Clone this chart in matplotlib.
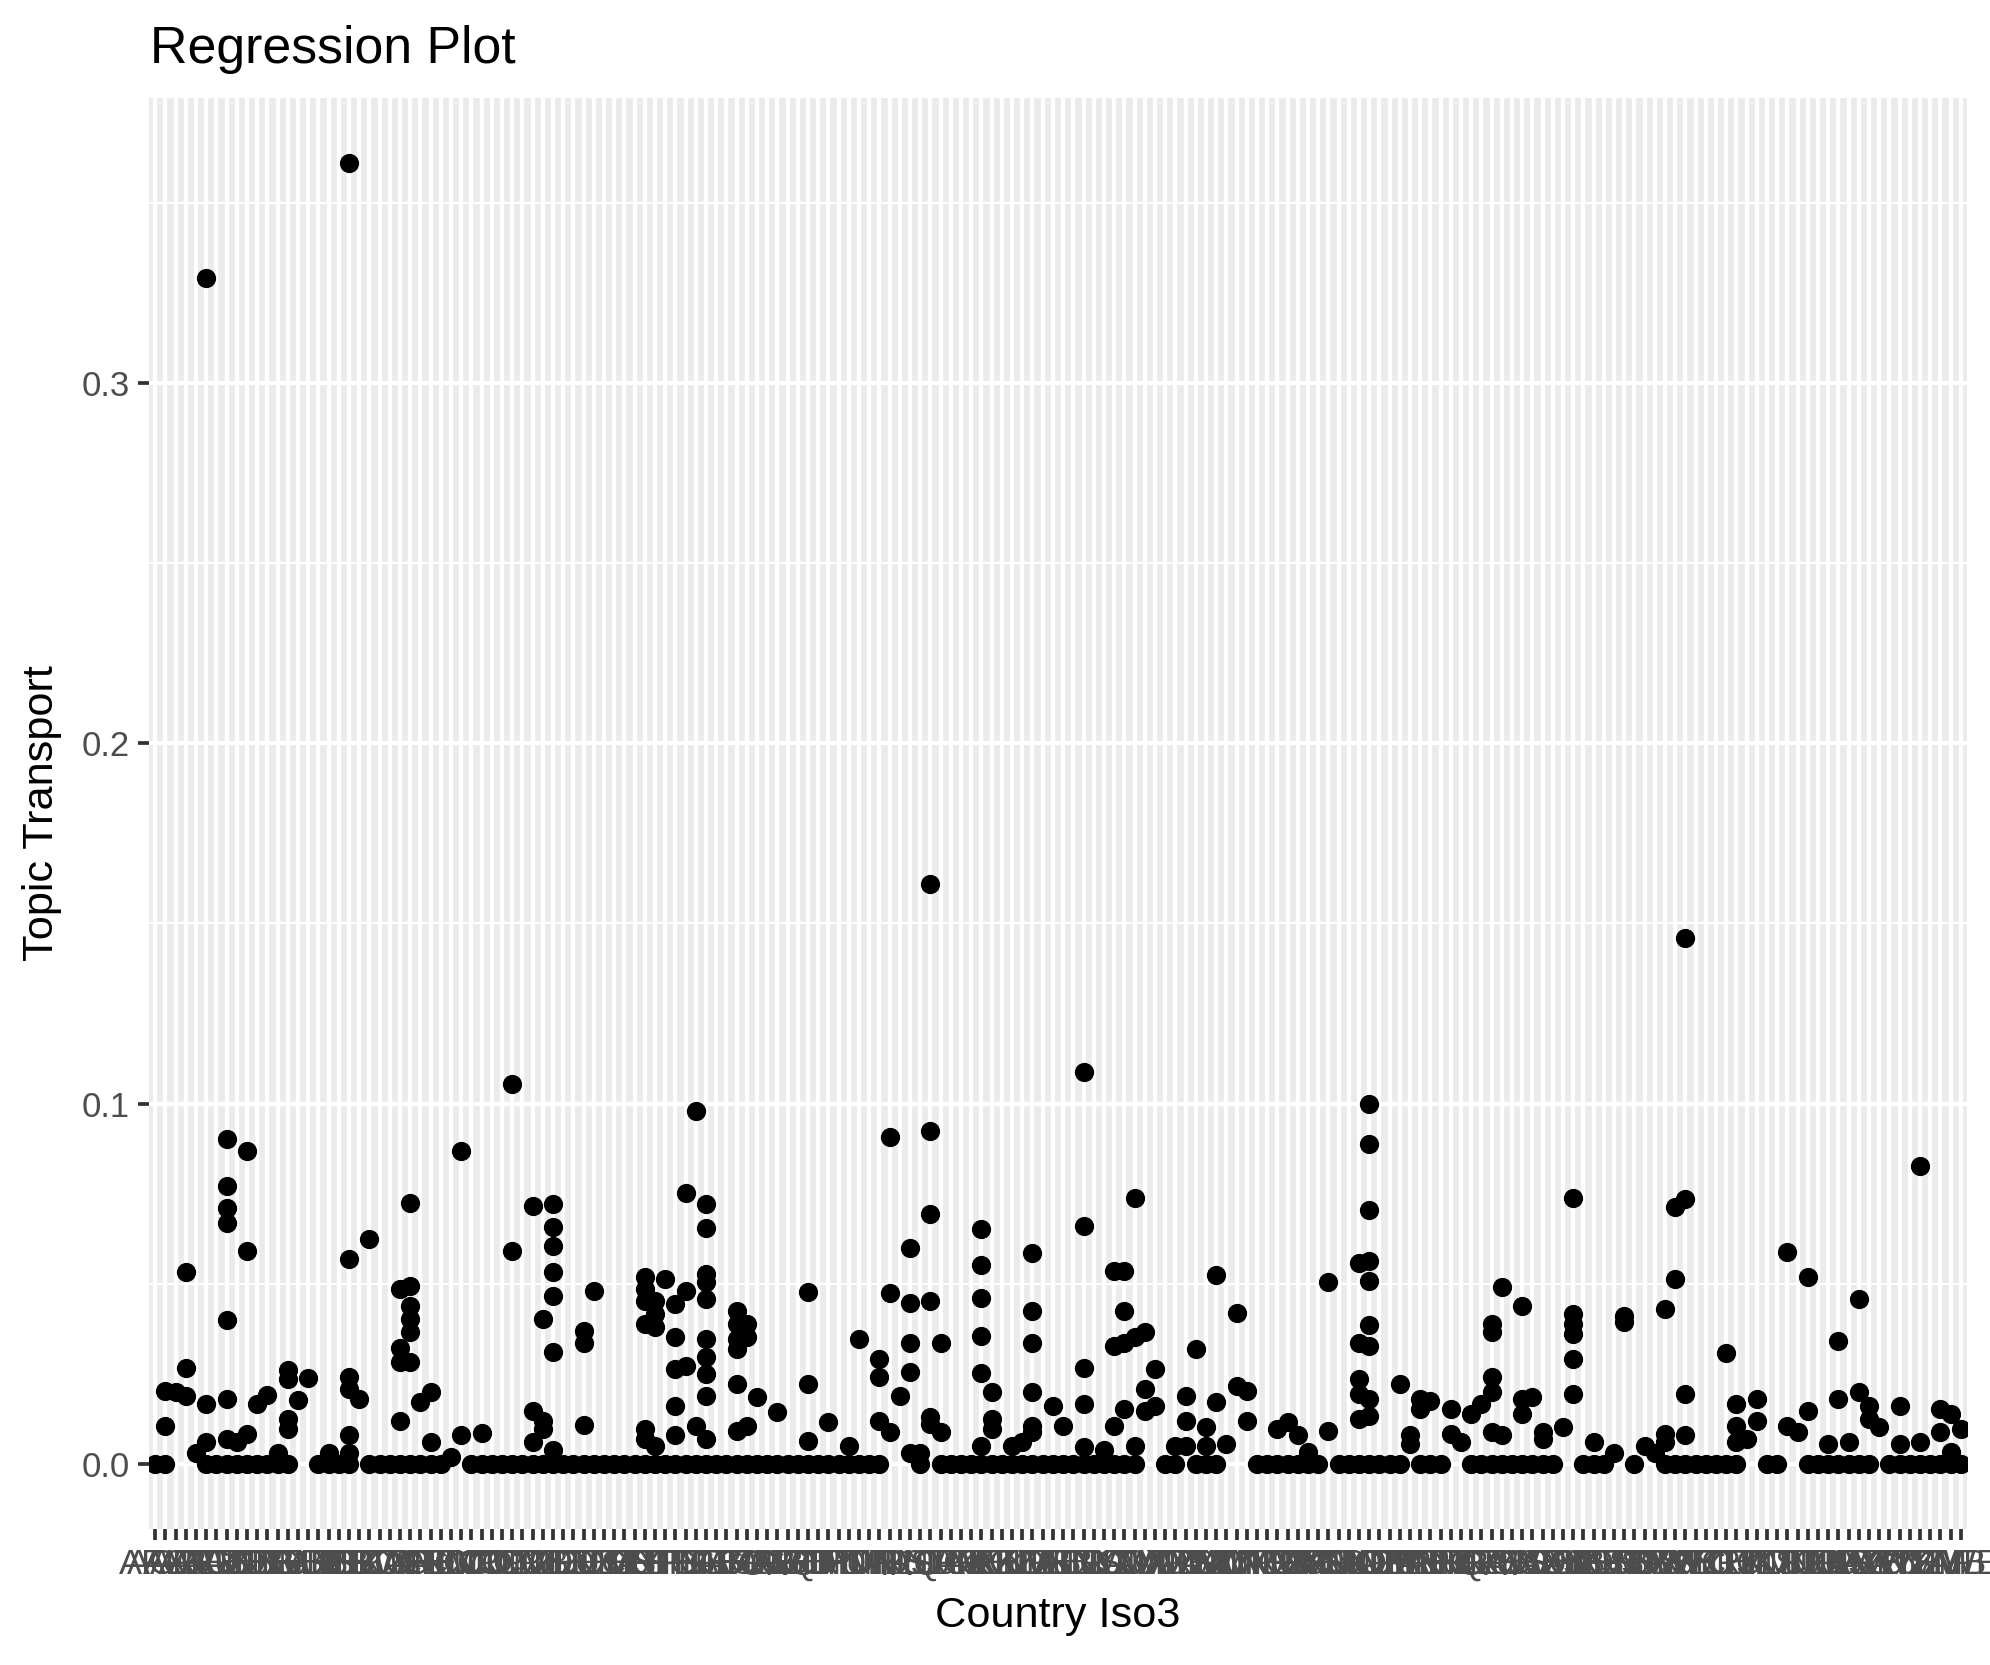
import numpy as np
import matplotlib
matplotlib.use("Agg")
import matplotlib.pyplot as plt

plt.rcParams['font.family'] = ['Liberation Sans', 'DejaVu Sans']

# Country codes on the x axis (alphabetical, as in the source figure)
iso3 = [
    "AFG", "AGO", "ALB", "ARE", "ARG", "ARM", "AUS", "AUT", "AZE", "BDI",
    "BEL", "BEN", "BFA", "BGD", "BGR", "BHR", "BHS", "BIH", "BLR", "BLZ",
    "BOL", "BRA", "BTN", "BWA", "CAF", "CAN", "CHE", "CHL", "CHN", "CIV",
    "CMR", "COD", "COG", "COL", "COM", "CPV", "CRI", "CUB", "CYP", "CZE",
    "DEU", "DJI", "DNK", "DOM", "DZA", "ECU", "EGY", "ERI", "ESP", "EST",
    "ETH", "FIN", "FJI", "FRA", "GAB", "GBR", "GEO", "GHA", "GIN", "GMB",
    "GNB", "GNQ", "GRC", "GRD", "GTM", "GUY", "HND", "HRV", "HTI", "HUN",
    "IDN", "IND", "IRL", "IRN", "IRQ", "ISL", "ISR", "ITA", "JAM", "JOR",
    "JPN", "KAZ", "KEN", "KGZ", "KHM", "KIR", "KOR", "KWT", "LAO", "LBN",
    "LBR", "LBY", "LCA", "LKA", "LSO", "LTU", "LUX", "LVA", "MAR", "MDA",
    "MDG", "MDV", "MEX", "MKD", "MLI", "MLT", "MMR", "MNE", "MNG", "MOZ",
    "MRT", "MUS", "MWI", "MYS", "NAM", "NER", "NGA", "NIC", "NLD", "NOR",
    "NPL", "NZL", "OMN", "PAK", "PAN", "PER", "PHL", "PNG", "POL", "PRT",
    "PRY", "QAT", "ROU", "RUS", "RWA", "SAU", "SDN", "SEN", "SGP", "SLB",
    "SLE", "SLV", "SOM", "SRB", "SSD", "STP", "SUR", "SVK", "SVN", "SWE",
    "SWZ", "SYC", "SYR", "TCD", "TGO", "THA", "TJK", "TKM", "TLS", "TON",
    "TTO", "TUN", "TUR", "TZA", "UGA", "UKR", "URY", "USA", "UZB", "VCT",
    "VEN", "VNM", "VUT", "WSM", "YEM", "ZAF", "ZMB", "ZWE",
]

# Topic Transport observations per country (same order as iso3)
transport = [
    [0.0], [0.0, 0.0106, 0.0203], [0.0199], [0.0189, 0.0266, 0.0534], [0.003],
    [0.0, 0.329, 0.0166, 0.006], [0.0],
    [0.0, 0.0903, 0.077, 0.071, 0.067, 0.040, 0.018, 0.007],
    [0.0, 0.006], [0.0, 0.0869, 0.059, 0.0083],
    [0.0, 0.0166], [0.0, 0.019], [0.0, 0.003], [0.0, 0.026, 0.0236, 0.0125, 0.0097],
    [0.0177], [0.0238], [0.0], [0.0, 0.003], [0.0],
    [0.0, 0.361, 0.0568, 0.024, 0.0208, 0.0079, 0.003],
    [0.018], [0.0, 0.0624], [0.0], [0.0], [0.0, 0.0485, 0.0323, 0.0282, 0.012],
    [0.0, 0.0723, 0.0494, 0.0439, 0.0402, 0.0365, 0.0282],
    [0.0, 0.0171], [0.0, 0.0199, 0.006], [0.0], [0.002],
    [0.0869, 0.0079], [0.0], [0.0, 0.0086], [0.0], [0.0],
    [0.0, 0.1055, 0.059], [0.0], [0.0, 0.0716, 0.0148, 0.006],
    [0.0, 0.0402, 0.012, 0.0097],
    [0.0, 0.072, 0.0658, 0.0605, 0.0534, 0.0467, 0.0311, 0.004],
    [0.0], [0.0], [0.0, 0.037, 0.0337, 0.0108], [0.0, 0.048], [0.0],
    [0.0], [0.0], [0.0], [0.0, 0.0518, 0.0485, 0.0453, 0.0388, 0.0097, 0.0069],
    [0.0, 0.0453, 0.0416, 0.0379, 0.005],
    [0.0, 0.0513], [0.0, 0.0444, 0.0351, 0.0263, 0.0162, 0.0079],
    [0.0, 0.0753, 0.0481, 0.0273], [0.0, 0.098, 0.0106],
    [0.0, 0.0721, 0.0656, 0.0527, 0.0504, 0.0457, 0.0347, 0.0296, 0.025, 0.0189, 0.0069],
    [0.0], [0.0], [0.0, 0.0425, 0.0388, 0.0347, 0.0319, 0.0222, 0.0092],
    [0.0, 0.0388, 0.0351, 0.0106], [0.0, 0.0185],
    [0.0], [0.0, 0.0143], [0.0], [0.0], [0.0, 0.0478, 0.0222, 0.0065],
    [0.0], [0.0, 0.0116], [0.0], [0.0, 0.005], [0.0, 0.0348],
    [0.0], [0.0, 0.0291, 0.024, 0.012], [0.0906, 0.0474, 0.0088], [0.0189],
    [0.0598, 0.0448, 0.0337, 0.0254, 0.003],
    [0.0, 0.003], [0.161, 0.0924, 0.0693, 0.0453, 0.0129, 0.0111],
    [0.0, 0.0337, 0.0088], [0.0], [0.0],
    [0.0], [0.0, 0.0652, 0.0552, 0.046, 0.0356, 0.0252, 0.005],
    [0.0, 0.0199, 0.0125, 0.0097], [0.0], [0.0, 0.005],
    [0.0, 0.006], [0.0, 0.0585, 0.0425, 0.0337, 0.0199, 0.0106, 0.0088],
    [0.0], [0.0, 0.0162], [0.0, 0.0106],
    [0.0], [0.0, 0.1088, 0.0661, 0.0266, 0.0166, 0.0046], [0.0], [0.0, 0.004],
    [0.0, 0.0536, 0.0328, 0.0106],
    [0.0, 0.0536, 0.0425, 0.0337, 0.0152], [0.0, 0.0739, 0.0351, 0.005],
    [0.0365, 0.0208, 0.0148], [0.0263, 0.0162], [0.0],
    [0.0, 0.005], [0.0189, 0.012, 0.005], [0.0, 0.0319], [0.0, 0.0102, 0.005],
    [0.0, 0.0524, 0.0171],
    [0.0055], [0.042, 0.0217], [0.0203, 0.012], [0.0], [0.0],
    [0.0, 0.0097], [0.0, 0.0116], [0.0, 0.0079], [0.0, 0.0032], [0.0],
    [0.0504, 0.0092], [0.0], [0.0], [0.0, 0.0559, 0.0337, 0.0236, 0.0194, 0.0125],
    [0.0, 0.0998, 0.0887, 0.0705, 0.0564, 0.0508, 0.0385, 0.0328, 0.018, 0.0134],
    [0.0], [0.0], [0.0, 0.0222], [0.0079, 0.0055], [0.0, 0.018, 0.0152],
    [0.0, 0.0176], [0.0], [0.0152, 0.0083], [0.006], [0.0, 0.0139],
    [0.0, 0.0166], [0.0, 0.0388, 0.0365, 0.024, 0.0199, 0.0088],
    [0.0, 0.049, 0.0079], [0.0], [0.0, 0.0439, 0.018, 0.0139],
    [0.0, 0.0185], [0.0, 0.0088, 0.0069], [0.0], [0.0102],
    [0.0739, 0.0416, 0.0388, 0.036, 0.0291, 0.0194],
    [0.0], [0.0, 0.006], [0.0], [0.003], [0.0411, 0.0393],
    [0.0], [0.005], [0.003], [0.0, 0.043, 0.0083, 0.006], [0.0, 0.0712, 0.0513],
    [0.0, 0.146, 0.0735, 0.0194, 0.0079], [0.0], [0.0], [0.0], [0.0, 0.0308],
    [0.0, 0.0166, 0.0106, 0.006], [0.0069], [0.018, 0.012], [0.0], [0.0],
    [0.0589, 0.0106], [0.0088], [0.0, 0.0518, 0.0148], [0.0], [0.0, 0.0055],
    [0.0, 0.0342, 0.018], [0.0, 0.006], [0.0, 0.0457, 0.0199], [0.0, 0.0162, 0.0125], [0.0102],
    [0.0], [0.0, 0.0162, 0.0055], [0.0], [0.0, 0.0827, 0.006], [0.0],
    [0.0, 0.0152, 0.0088], [0.0, 0.0139, 0.0032], [0.0, 0.0097],
]

y_ticks = [0.0, 0.1, 0.2, 0.3]
y_minor = [0.05, 0.15, 0.25, 0.35]

n = len(iso3)
counts = [len(v) for v in transport]
xs = np.repeat(np.arange(n), counts)
ys = np.concatenate([np.array(v, dtype=float) for v in transport])

W, H, DPI = 1990, 1665, 283
fig = plt.figure(figsize=(W / DPI, H / DPI), dpi=DPI)
left, right, top, bottom = 149, 1967, 98, 1529
ax = fig.add_axes([left / W, 1 - bottom / H, (right - left) / W, (bottom - top) / H])

ax.set_facecolor('#EBEBEB')
for s in ax.spines.values():
    s.set_visible(False)
ax.set_axisbelow(True)

ax.plot(xs, ys, 'o', color='black', markersize=4.9, markeredgewidth=0)

ymax = ys.max()
ax.set_xlim(-0.6, n - 1 + 0.6)
ax.set_ylim(-0.05 * ymax, ymax * 1.05)

ax.set_xticks(np.arange(n))
ax.set_xticklabels(iso3)
ax.set_yticks(y_ticks)
ax.set_yticklabels([f"{t:.1f}" for t in y_ticks])
ax.set_yticks(y_minor, minor=True)

ax.grid(which='major', color='white', linewidth=1.07)
ax.grid(which='minor', axis='y', color='white', linewidth=0.53)
ax.tick_params(which='major', length=2.75, width=0.95, color='#333333',
               labelcolor='#4D4D4D', labelsize=8.8, pad=2.2)
ax.tick_params(which='minor', length=0)

ax.set_xlabel('Country Iso3', fontsize=11, color='black')
ax.xaxis.set_label_coords(0.5, -(1596 - bottom) / (bottom - top))
ax.set_ylabel('Topic Transport', fontsize=11, color='black')
ax.yaxis.set_label_coords(-(left - 62) / (right - left), 0.5)

fig.text(150 / W, 1 - 63 / H, 'Regression Plot', fontsize=13.2, ha='left', va='baseline')

fig.savefig('out.png', dpi=DPI, facecolor='white')
